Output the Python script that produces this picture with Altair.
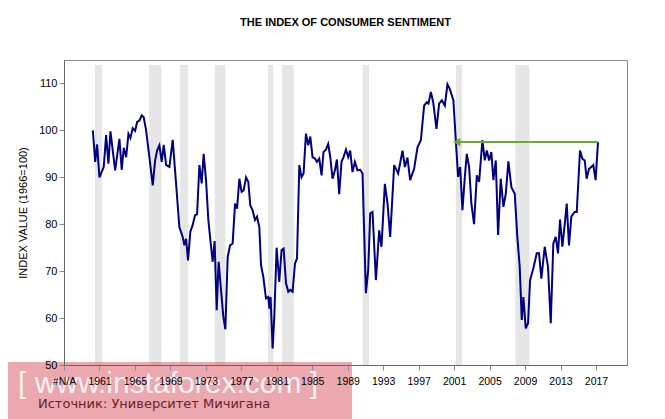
import altair as alt
import pandas as pd

years = [1960.25, 1960.52, 1960.73, 1961.0, 1961.48, 1961.75, 1962.01, 1962.24, 1962.77, 1963.25,
         1963.51, 1963.74, 1964.01, 1964.27, 1964.49, 1964.75, 1965.02, 1965.25, 1965.51, 1965.77,
         1965.99, 1966.26, 1966.63, 1967.01, 1967.28, 1967.5, 1967.76, 1968.02, 1968.25, 1968.52,
         1968.89, 1969.26, 1969.64, 1970.01, 1970.39, 1970.58, 1970.77, 1970.99, 1971.25, 1971.51,
         1971.78, 1972.01, 1972.27, 1972.53, 1972.75, 1973.02, 1973.28, 1973.51, 1973.77, 1973.99,
         1974.22, 1974.44, 1974.71, 1974.97, 1975.2, 1975.46, 1975.73, 1976.02, 1976.29, 1976.52,
         1976.78, 1977.03, 1977.26, 1977.53, 1977.79, 1978.01, 1978.27, 1978.54, 1978.77, 1979.03,
         1979.22, 1979.48, 1979.78, 1980.04, 1980.16, 1980.3, 1980.53, 1980.72, 1980.98, 1981.28,
         1981.54, 1981.77, 1982.04, 1982.3, 1982.52, 1982.78, 1983.05, 1983.28, 1983.54, 1983.79,
         1984.02, 1984.29, 1984.55, 1984.78, 1985.03, 1985.31, 1985.53, 1985.79, 1986.05, 1986.27,
         1986.54, 1986.8, 1987.03, 1987.29, 1987.56, 1987.78, 1988.04, 1988.3, 1988.53, 1988.8,
         1989.06, 1989.28, 1989.54, 1989.81, 1990.1, 1990.41, 1990.67, 1991.05, 1991.31, 1991.54,
         1991.8, 1992.18, 1992.55, 1992.81, 1993.19, 1993.49, 1993.79, 1994.24, 1994.69, 1995.18,
         1995.45, 1995.74, 1996.04, 1996.49, 1996.87, 1997.25, 1997.62, 1997.93, 1998.11, 1998.38,
         1998.64, 1999.01, 1999.31, 1999.62, 1999.95, 2000.25, 2000.52, 2000.92, 2001.19, 2001.45,
         2001.68, 2001.94, 2002.21, 2002.43, 2002.69, 2002.95, 2003.25, 2003.56, 2003.82, 2004.19,
         2004.46, 2004.69, 2004.95, 2005.2, 2005.43, 2005.7, 2005.96, 2006.26, 2006.56, 2006.83,
         2007.12, 2007.46, 2007.84, 2008.13, 2008.4, 2008.63, 2008.81, 2009.08, 2009.34, 2009.57,
         2009.94, 2010.32, 2010.58, 2010.84, 2011.22, 2011.59, 2011.9, 2012.19, 2012.46, 2012.72,
         2012.95, 2013.21, 2013.48, 2013.7, 2013.96, 2014.22, 2014.6, 2014.83, 2015.2, 2015.46,
         2015.73, 2015.95, 2016.21, 2016.47, 2016.7, 2016.96, 2017.23]
values = [100, 93.3, 97, 90, 92.2, 99, 92.9, 99.8, 91.5, 98.2,
          91.6, 96.3, 94.3, 99.3, 98.4, 100.5, 99.9, 101.8, 102.1, 103.2,
          102.8, 100, 94.3, 88.3, 93.6, 95.7, 96.8, 93.3, 96.9, 92.6,
          92.2, 98, 88.7, 79.4, 77.3, 75.5, 76.9, 72.3, 78.4, 79.8,
          81.9, 82.1, 92.6, 88.7, 95, 89.4, 80.9, 76.6, 72, 76.4,
          61.7, 72, 66, 60.3, 57.6, 73, 75.5, 75.9, 84.4, 83.3,
          89.7, 86.9, 87.2, 90, 89, 84, 83, 80.9, 81.6, 79.4,
          71.3, 68.8, 64.2, 64.5, 62, 64.5, 53.5, 60.3, 75, 67.7,
          74.5, 74.8, 67.4, 65.6, 66, 65.6, 71.6, 72.7, 92.6, 90,
          90.8, 99.3, 96.8, 98.7, 94.3, 94, 93.3, 94, 90.4, 95.4,
          95.9, 97.1, 94.3, 89.7, 91.5, 93.8, 86.4, 93.3, 94.3, 95.9,
          94.3, 95.7, 91.1, 93.3, 91.5, 91.6, 90.8, 65.3, 70.2, 82.3,
          82.6, 68.1, 78.7, 75.2, 88.6, 84.4, 77.3, 92.6, 90.8, 95.7,
          92.2, 94.2, 89.4, 91.8, 96.4, 97.9, 105.3, 106, 105.7, 108.2,
          106, 100.3, 105.7, 106.4, 105.3, 109.8, 108.8, 106.4, 97.9, 90.1,
          92.2, 83, 90.1, 95, 92.2, 84.4, 80, 90.4, 89, 97.9,
          93.6, 95.7, 93.6, 95.4, 89.4, 93.6, 77.7, 89.7, 83.7, 86.5,
          93.4, 87.9, 86.5, 77.3, 70.9, 59.6, 64.5, 57.8, 58.9, 68.1,
          70.6, 73.8, 73.8, 68.4, 75.2, 70.9, 58.9, 75.9, 77.3, 73.8,
          81, 75.2, 80.1, 84.4, 75.5, 81.6, 82.6, 82.6, 95.7, 94,
          93.6, 89.7, 91.8, 92.2, 92.6, 89.4, 97.5]

rec_start = [1960.5, 1966.6, 1970.1, 1974.0, 1980.0, 1981.6, 1990.7, 2001.2, 2007.9]
rec_end = [1961.3, 1968.0, 1971.0, 1975.2, 1980.6, 1982.9, 1991.4, 2001.9, 2009.5]
tick_years = list(range(1957, 2018, 4))
arrow_from, arrow_to, arrow_level = 2017.2, 2001.3, 97.5

df = pd.DataFrame({"year": years, "value": values})
rec = pd.DataFrame({"s": rec_start, "e": rec_end})

xsc = alt.Scale(domain=[1957, 2020.5], nice=False, zero=False)
ysc = alt.Scale(domain=[50, 115], nice=False, zero=False)
xax = alt.Axis(values=tick_years, format="d", labelExpr="datum.value == 1957 ? '#N/A' : datum.label",
               grid=False, labelFontSize=10.5, labelColor="#000", tickColor="#888", domainColor="#666",
               labelPadding=6, labelFont="Liberation Sans", labelOverlap=False, labelFlush=False,
               title=None, zindex=1)
yax = alt.Axis(values=[50, 60, 70, 80, 90, 100, 110], grid=False, labelFontSize=11, labelColor="#000",
               tickColor="#888", domainColor="#666", title="INDEX VALUE (1966=100)", titleFontSize=11,
               titleFontWeight="normal", titleColor="#000", titlePadding=10, labelFont="Liberation Sans",
               titleFont="Liberation Sans", zindex=1)

bands = alt.Chart(rec).mark_rect(color="#e6e6e6").encode(
    x=alt.X("s:Q", scale=xsc, axis=xax), x2="e:Q",
    y=alt.value(5), y2=alt.value(305))

line = alt.Chart(df).mark_line(color="#000080", strokeWidth=2).encode(
    x=alt.X("year:Q", scale=xsc, axis=xax), y=alt.Y("value:Q", scale=ysc, axis=yax))

arr = pd.DataFrame({"x": [arrow_from], "x2": [arrow_to], "y": [arrow_level]})
arrow = alt.Chart(arr).mark_rule(color="#6aaa3a", strokeWidth=2).encode(
    x=alt.X("x:Q", axis=xax), x2="x2:Q", y=alt.Y("y:Q", axis=yax))
head = alt.Chart(arr).mark_point(shape="triangle-left", filled=True, color="#6aaa3a", size=70, opacity=1).encode(
    x=alt.X("x2:Q", axis=xax), y=alt.Y("y:Q", axis=yax))

wm = alt.Chart(pd.DataFrame({"a": [0]})).mark_rect(color="#e07a84", opacity=0.65).encode(
    x=alt.value(-64), x2=alt.value(288), y=alt.value(302), y2=alt.value(359))
wm_text = alt.Chart(pd.DataFrame({"a": [0]})).mark_text(
    text="[  www.instaforex.com  ]", color="white", fontSize=30, align="left", font="Liberation Sans",
    opacity=0.85).encode(x=alt.value(-46), y=alt.value(324))
wm_src = alt.Chart(pd.DataFrame({"a": [0]})).mark_text(
    text="Источник: Университет Мичигана", color="#6a2228", fontSize=13, align="left", font="DejaVu Sans").encode(
    x=alt.value(-26), y=alt.value(344))

chart = alt.layer(bands, line, arrow, head, wm, wm_text, wm_src).properties(
    width=563, height=305,
    title=alt.TitleParams("THE INDEX OF CONSUMER SENTIMENT", fontSize=11, fontWeight="bold",
                          font="Liberation Sans", offset=32, anchor="middle"),
    autosize=alt.AutoSizeParams(type="none"),
    padding={"left": 56, "top": 52, "right": 20, "bottom": 56},
    background="white"
).configure_view(stroke="#888", clip=False)

chart.save("out.html", embed_options={"renderer": "svg", "actions": False})
